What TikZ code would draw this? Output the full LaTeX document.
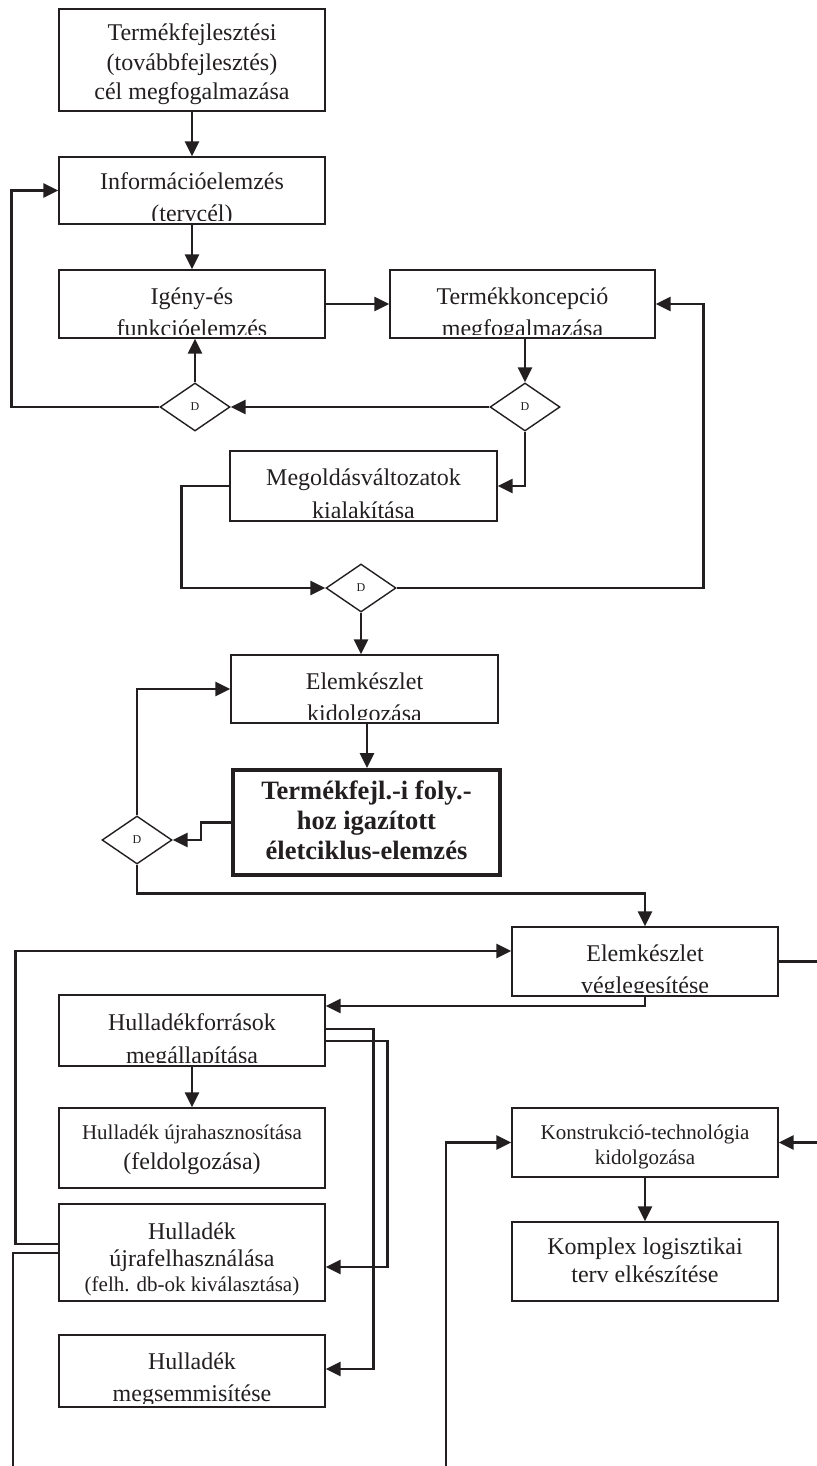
\documentclass[tikz,border=0pt]{standalone}
\usepackage{fontspec}
\setmainfont{Liberation Serif}
\usetikzlibrary{arrows.meta,shapes.geometric}
\definecolor{ink}{RGB}{35,31,32}

% box label clipped to the inside of its frame; the position is the last line's baseline
\newcommand\cliplabel[4]{%
  \begin{scope}
    \clip ([yshift=4pt]#1.south west) rectangle (#1.north east);
    \node[lbl, font=#3] (#1t) at (#2) {#4};
  \end{scope}}

\begin{document}
\begin{tikzpicture}[x=1pt,y=-1pt,
  box/.style={draw=ink, line width=1.3pt, minimum width=266pt, inner sep=0pt},
  boldbox/.style={box, line width=4pt},
  dec/.style={draw=ink, line width=1.4pt, diamond, aspect=1.46,
    minimum width=70pt, minimum height=48pt, inner sep=0pt,
    font=\fontsize{12}{12}\selectfont, text=ink},
  lbl/.style={anchor=base, align=center, inner sep=0pt, text=ink},
  conn/.style={draw=ink, line width=2.8pt, -{Triangle[length=15pt,width=14pt]}},
  wire/.style={draw=ink, line width=2.8pt},
]
\fill[white] (0,0) rectangle (816,1466);
\useasboundingbox (0,0) rectangle (816,1466);

% process boxes
\node[box, minimum height=102pt] (b1) at (192,60) {};
\node[box, minimum height=67pt] (b2) at (192,190.5) {};
\node[box, minimum height=68pt] (b3) at (192,304) {};
\node[box, minimum width=265pt, minimum height=68pt] (b4) at (522.5,304) {};
\node[box, minimum width=267pt, minimum height=70pt] (b5) at (363.5,486) {};
\node[box, minimum width=267pt, minimum height=68pt] (b6) at (364.5,689) {};
\node[boldbox, minimum width=267pt, minimum height=105pt] (b7) at (366.5,822.5) {};
\node[box, minimum height=69pt] (b8) at (645,961.5) {};
\node[box, minimum height=71pt] (b9) at (192,1030.5) {};
\node[box, minimum height=80pt] (b10) at (192,1148) {};
\node[box, minimum height=97pt] (b11) at (192,1252.5) {};
\node[box, minimum height=72pt] (b12) at (192,1371) {};
\node[box, minimum height=69pt] (b13) at (645,1142.5) {};
\node[box, minimum height=79pt] (b14) at (645,1261.5) {};

% decisions
\node[dec] (d1) at (195,407) {D};
\node[dec] (d2) at (525,407) {D};
\node[dec] (d3) at (361,588) {D};
\node[dec] (d4) at (137,840) {D};

% labels
\cliplabel{b1}{192,100}{\fontsize{24}{29.5}\selectfont}{Termékfejlesztési\\(továbbfejlesztés)\\cél megfogalmazása}
\cliplabel{b2}{192,221}{\fontsize{24}{32}\selectfont}{Információelemzés\\(tervcél)}
\cliplabel{b3}{192,336}{\fontsize{24}{32}\selectfont}{Igény-és\\funkcióelemzés}
\cliplabel{b4}{522.5,336}{\fontsize{24}{32}\selectfont}{Termékkoncepció\\megfogalmazása}
\cliplabel{b5}{363.5,518}{\fontsize{24}{33}\selectfont}{Megoldásváltozatok\\kialakítása}
\cliplabel{b6}{364.5,721}{\fontsize{24}{32}\selectfont}{Elemkészlet\\kidolgozása}
\cliplabel{b7}{366.5,859}{\bfseries\fontsize{26.5}{30}\selectfont}{Termékfejl.-i foly.-\\hoz igazított\\életciklus-elemzés}
\cliplabel{b8}{645,993}{\fontsize{24}{32}\selectfont}{Elemkészlet\\véglegesítése}
\cliplabel{b9}{192,1063}{\fontsize{24}{33}\selectfont}{Hulladékforrások\\megállapítása}
\cliplabel{b10}{192,1169}{\fontsize{24}{30}\selectfont}{{\fontsize{21}{25}\selectfont Hulladék újrahasznosítása}\\(feldolgozása)}
\cliplabel{b11}{192,1291}{\fontsize{24}{27}\selectfont}{Hulladék\\újrafelhasználása\\[-2pt]{\fontsize{21}{25}\selectfont (felh. db-ok kiválasztása)}}
\cliplabel{b12}{192,1401}{\fontsize{24}{32}\selectfont}{Hulladék\\megsemmisítése}
\cliplabel{b13}{645,1164}{\fontsize{21}{25}\selectfont}{Konstrukció-technológia\\kidolgozása}
\cliplabel{b14}{645,1282}{\fontsize{24}{28}\selectfont}{Komplex logisztikai\\terv elkészítése}

% free ends leaving the sheet
\coordinate (offA) at (13,1490);
\coordinate (offB) at (446,1490);

% connectors
\draw[conn] (b1.south) -- (b2.north);
\draw[conn] (b2.south) -- (b3.north);
\draw[conn] (b3.east) -- (b4.west);
\draw[conn] (b4.south -| d2.north) -- (d2.north);
\draw[conn] (d2.west) -- (d1.east);
\draw[conn] (d1.north) -- (d1.north |- b3.south);
\draw[conn] (d1.west) -| ([xshift=-47pt]b2.west) -- (b2.west);
\draw[conn] (d2.south) |- (b5.east);
\draw[conn] (b5.west) -- ++(-48,0) |- (d3.west);
\draw[conn] (d3.east) -| ([xshift=48pt]b4.east) -- (b4.east);
\draw[conn] (d3.south) -- (d3.south |- b6.north);
\draw[conn] ([xshift=2.5pt]b6.south) -- ([xshift=2.5pt]b6.south |- b7.north);
\draw[conn] (b7.west) -- ++(-30,0) |- (d4.east);
\draw[conn] (d4.north) |- (b6.west);
\draw[conn] (d4.south) |- ([yshift=33pt]b8.north) -- (b8.north);
\draw[conn] ([yshift=8.5pt]b11.west) -- ++(-43,0) |- ([yshift=10.5pt]b8.west);
\draw[conn] (b8.east) -- ++(52,0) |- (b13.east);
\draw[conn] (b8.south) |- ([yshift=24.5pt]b9.east);
\draw[conn] (b9.south) -- (b10.north);
\draw[conn] ([yshift=1.5pt]b9.east) -- ++(48,0) |- ([yshift=2pt]b12.east);
\draw[conn] ([yshift=-10.5pt]b9.east) -- ++(62,0) |- ([yshift=-14.5pt]b11.east);
\draw[wire] ([yshift=-0.5pt]b11.west) -| (offA);
\draw[conn] (offB) |- (b13.west);
\draw[conn] (b13.south) -- (b14.north);
\end{tikzpicture}
\end{document}
